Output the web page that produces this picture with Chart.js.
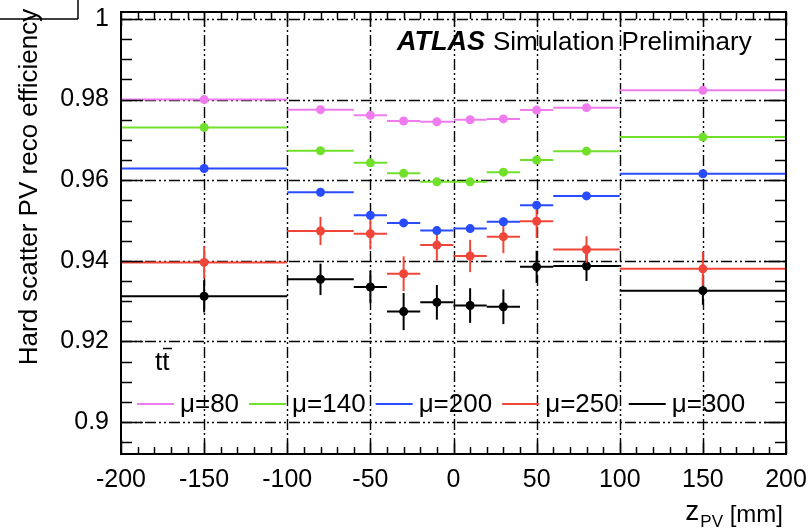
<!DOCTYPE html>
<html>
<head>
<meta charset="utf-8">
<script src="https://cdn.jsdelivr.net/npm/chart.js@4.4.0/dist/chart.umd.min.js"></script>
<style>
  html, body { margin: 0; padding: 0; background: #fff; }
  #effChart { display: block; }
</style>
</head>
<body>
<canvas id="effChart" width="809" height="531"></canvas>
<script>
// bins in z_PV [mm]
const binEdges   = [-200, -100, -60, -40, -20, 0, 20, 40, 60, 100, 200];
const binCenters = [-150, -80, -50, -30, -10, 10, 30, 50, 80, 150];

const muLabels = ['μ=80', 'μ=140', 'μ=200', 'μ=250', 'μ=300'];
const muColors = ['#ef7cef', '#70e02a', '#2a4cff', '#f0463a', '#000000'];

// efficiency per bin + stat. error
const effMu80  = [0.9800, 0.9775, 0.9761, 0.9747, 0.9745, 0.9750, 0.9752, 0.9774, 0.9780, 0.9823];
const errMu80  = [0.0007, 0.0007, 0.0007, 0.0007, 0.0007, 0.0007, 0.0007, 0.0007, 0.0007, 0.0007];
const effMu140 = [0.9731, 0.9673, 0.9643, 0.9617, 0.9596, 0.9596, 0.9620, 0.9650, 0.9672, 0.9707];
const errMu140 = [0.0008, 0.0008, 0.0008, 0.0008, 0.0008, 0.0008, 0.0008, 0.0008, 0.0008, 0.0008];
const effMu200 = [0.9629, 0.9570, 0.9513, 0.9494, 0.9475, 0.9480, 0.9497, 0.9538, 0.9561, 0.9616];
const errMu200 = [0.0010, 0.0010, 0.0010, 0.0010, 0.0010, 0.0010, 0.0010, 0.0010, 0.0010, 0.0010];
const effMu250 = [0.9396, 0.9474, 0.9467, 0.9368, 0.9439, 0.9412, 0.9460, 0.9498, 0.9428, 0.9380];
const errMu250 = [0.0040, 0.0035, 0.0039, 0.0043, 0.0039, 0.0040, 0.0041, 0.0041, 0.0033, 0.0042];
const effMu300 = [0.9312, 0.9354, 0.9335, 0.9274, 0.9297, 0.9289, 0.9286, 0.9385, 0.9387, 0.9326];
const errMu300 = [0.0040, 0.0039, 0.0040, 0.0046, 0.0043, 0.0043, 0.0043, 0.0040, 0.0037, 0.0035];

const xTicks = [-200, -150, -100, -50, 0, 50, 100, 150, 200];
const yTicks = [0.9, 0.92, 0.94, 0.96, 0.98, 1];

const FONT = "'Liberation Sans', Arial, sans-serif";

function makePoints(eff, err) {
    return binCenters.map((x, i) => ({ x: x, y: eff[i], lo: binEdges[i], hi: binEdges[i + 1], err: err[i] }));
}

const allEff = [effMu80, effMu140, effMu200, effMu250, effMu300];
const allErr = [errMu80, errMu140, errMu200, errMu250, errMu300];

const datasets = muLabels.map((lab, k) => ({
    label: lab,
    data: makePoints(allEff[k], allErr[k]),
    borderColor: muColors[k],
    backgroundColor: muColors[k],
    pointBackgroundColor: muColors[k],
    pointBorderWidth: 0,
    pointRadius: 4.5,
    showLine: false
}));

function line(ctx, x1, y1, x2, y2) {
    ctx.beginPath();
    ctx.moveTo(x1, y1);
    ctx.lineTo(x2, y2);
    ctx.stroke();
}

// dash-dot grid under the markers
const gridPlugin = {
    id: 'dashDotGrid',
    beforeDatasetsDraw(chart) {
        const { ctx, chartArea: a, scales: { x, y } } = chart;
        ctx.save();
        ctx.strokeStyle = '#000';
        ctx.lineWidth = 1.4;
        ctx.setLineDash([11, 3, 2, 3, 2, 3]);
        xTicks.slice(1, -1).forEach(v => {
            const px = Math.round(x.getPixelForValue(v)) + 0.5;
            line(ctx, px, a.bottom, px, a.top);
        });
        yTicks.forEach(v => {
            const py = Math.round(y.getPixelForValue(v)) + 0.5;
            line(ctx, a.left, py, a.right, py);
        });
        ctx.restore();
    }
};

// bin-width horizontal bars and vertical error bars
const errorBarPlugin = {
    id: 'binErrorBars',
    beforeDatasetDraw(chart, args) {
        const ds = chart.data.datasets[args.index];
        const { ctx, chartArea: a, scales: { x, y } } = chart;
        ctx.save();
        ctx.beginPath();
        ctx.rect(a.left, a.top, a.right - a.left, a.bottom - a.top);
        ctx.clip();
        ctx.strokeStyle = ds.borderColor;
        ctx.lineWidth = 2;
        ds.data.forEach(p => {
            const py = y.getPixelForValue(p.y);
            const px = x.getPixelForValue(p.x);
            line(ctx, x.getPixelForValue(p.lo), py, x.getPixelForValue(p.hi), py);
            line(ctx, px, y.getPixelForValue(p.y - p.err), px, y.getPixelForValue(p.y + p.err));
        });
        ctx.restore();
    }
};

// frame with inward ticks on all four sides
const framePlugin = {
    id: 'frameTicks',
    afterDatasetsDraw(chart) {
        const { ctx, chartArea: a, scales: { x, y } } = chart;
        ctx.save();
        ctx.strokeStyle = '#000';
        ctx.lineWidth = 1.5;
        // y ticks every 0.005, major every 0.02
        for (let k = 179; k <= 200; k++) {
            const py = Math.round(y.getPixelForValue(k * 0.005)) + 0.5;
            const len = (k % 4 === 0) ? 22 : 11;
            line(ctx, a.left, py, a.left + len, py);
            line(ctx, a.right, py, a.right - len, py);
        }
        // x ticks every 10 mm, major every 50 mm
        for (let k = -20; k <= 20; k++) {
            const px = Math.round(x.getPixelForValue(k * 10)) + 0.5;
            const len = (k % 5 === 0) ? 14 : 7;
            line(ctx, px, a.bottom, px, a.bottom - len);
            line(ctx, px, a.top, px, a.top + len);
        }
        ctx.lineWidth = 2;
        ctx.strokeRect(a.left, a.top, a.right - a.left, a.bottom - a.top);
        ctx.restore();
    }
};

// legend, labels and axis titles
const textPlugin = {
    id: 'plotText',
    afterDraw(chart) {
        const ctx = chart.ctx;
        ctx.save();
        ctx.fillStyle = '#000';
        ctx.textBaseline = 'alphabetic';

        // legend row
        ctx.font = '26px ' + FONT;
        let lx = 137;
        const ly = 404;
        chart.data.datasets.forEach(ds => {
            ctx.strokeStyle = ds.borderColor;
            ctx.lineWidth = 2;
            line(ctx, lx, ly, lx + 37, ly);
            ctx.fillText(ds.label, lx + 43, 412);
            lx += 43 + ctx.measureText(ds.label).width + 10;
        });

        // ATLAS label
        ctx.font = 'italic bold 27px ' + FONT;
        ctx.fillText('ATLAS', 397, 50);
        ctx.font = '26px ' + FONT;
        ctx.fillText('Simulation Preliminary', 493, 50);

        // ttbar sample
        ctx.font = '26px ' + FONT;
        ctx.fillText('tt', 155, 370);
        ctx.lineWidth = 1.5;
        ctx.strokeStyle = '#000';
        line(ctx, 163, 348.5, 172, 348.5);

        // y title
        ctx.save();
        ctx.translate(37, 187);
        ctx.rotate(-Math.PI / 2);
        ctx.textAlign = 'center';
        ctx.font = '26px ' + FONT;
        ctx.fillText('Hard scatter PV reco efficiency', 0, 0);
        ctx.restore();

        // x title
        ctx.textAlign = 'right';
        ctx.font = '24px ' + FONT;
        const unit = '[mm]';
        ctx.fillText(unit, 783, 522);
        const wUnit = ctx.measureText(unit + ' ').width;
        ctx.font = '17px ' + FONT;
        ctx.fillText('PV', 783 - wUnit, 527);
        const wSub = ctx.measureText('PV').width;
        ctx.font = '28px ' + FONT;
        ctx.fillText('z', 783 - wUnit - wSub - 1, 520);

        // corner box
        ctx.lineWidth = 1.5;
        line(ctx, 78, 0, 78, 19);
        line(ctx, 0, 19, 78, 19);
        ctx.restore();
    }
};

new Chart(document.getElementById('effChart'), {
    type: 'scatter',
    data: { datasets: datasets },
    options: {
        responsive: false,
        animation: false,
        devicePixelRatio: 1,
        layout: { padding: { top: 12, right: 23, left: 0, bottom: 0 } },
        plugins: {
            legend: { display: false },
            tooltip: { enabled: false }
        },
        scales: {
            x: {
                type: 'linear',
                min: -200,
                max: 200,
                afterBuildTicks: (s) => { s.ticks = xTicks.map(v => ({ value: v })); },
                afterFit: (s) => { s.height = 77; s.paddingLeft = 0; s.paddingRight = 0; },
                grid: { display: false },
                border: { display: false },
                ticks: {
                    color: '#000',
                    font: { family: FONT, size: 25 },
                    padding: 3,
                    maxRotation: 0,
                    callback: (v) => String(v)
                }
            },
            y: {
                type: 'linear',
                min: 0.89207,
                max: 1.00173,
                afterBuildTicks: (s) => { s.ticks = yTicks.map(v => ({ value: v })); },
                afterFit: (s) => { s.width = 121; s.paddingTop = 0; s.paddingBottom = 0; },
                grid: { display: false },
                border: { display: false },
                ticks: {
                    color: '#000',
                    font: { family: FONT, size: 25 },
                    padding: 4,
                    callback: (v) => String(+v.toFixed(2))
                }
            }
        }
    },
    plugins: [gridPlugin, errorBarPlugin, framePlugin, textPlugin]
});
</script>
</body>
</html>
